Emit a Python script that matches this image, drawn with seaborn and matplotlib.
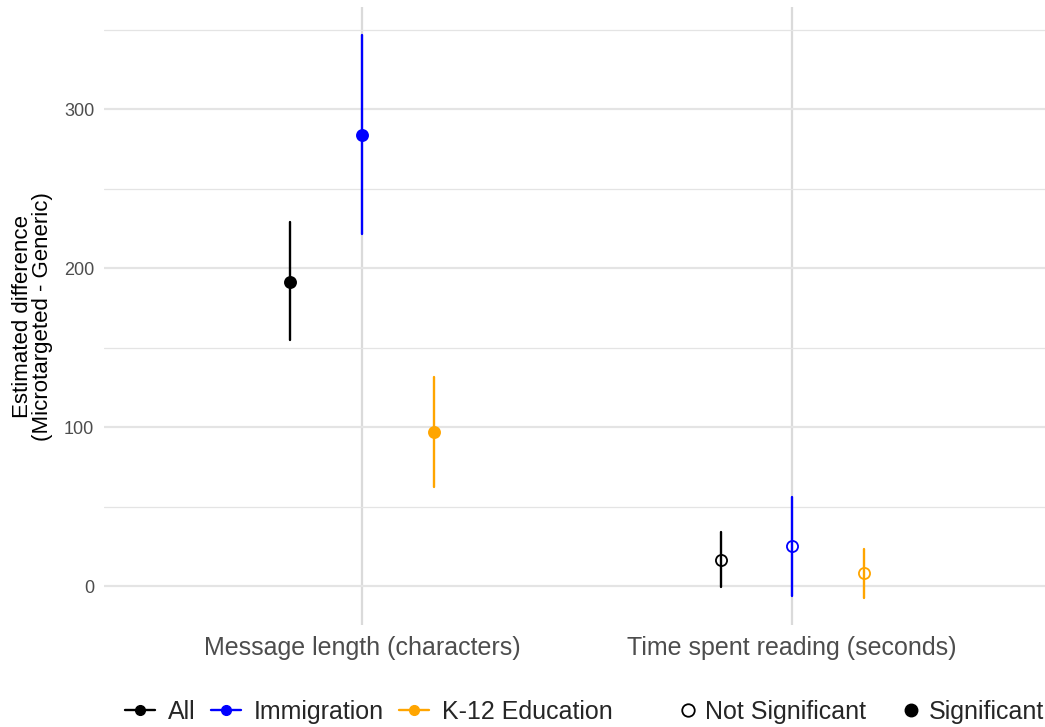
import numpy as np
import pandas as pd
import matplotlib
matplotlib.use("Agg")
import matplotlib.pyplot as plt
from matplotlib.lines import Line2D
import seaborn as sns

# Estimated microtargeting effects with 95% intervals
outcomes = ["Message length (characters)", "Time spent reading (seconds)"]
groups = ["All", "Immigration", "K-12 Education"]
palette = {"All": "#000000", "Immigration": "#0000FF", "K-12 Education": "#FFA500"}

# rows: outcome, columns: group order above
estimate = [[191.5, 283.6, 96.9], [16.4, 25.2, 8.2]]
lower = [[154.7, 221.4, 62.3], [-0.6, -6.3, -7.5]]
upper = [[229.0, 346.5, 131.4], [34.0, 56.0, 23.3]]

yticks = [0, 100, 200, 300]

# long table: each point is described by its lower bound, estimate and upper bound,
# so the median is the estimate and the full interval (pi 100) is the CI
rows = []
for i, outc in enumerate(outcomes):
    for j, grp in enumerate(groups):
        sig = "Significant" if (lower[i][j] > 0 or upper[i][j] < 0) else "Not Significant"
        for v in (lower[i][j], estimate[i][j], upper[i][j]):
            rows.append({"outcome": outc, "group": grp, "value": v, "sig": sig})
df = pd.DataFrame(rows)

sns.set_theme(style="whitegrid")
plt.rcParams["font.family"] = ["Liberation Sans", "DejaVu Sans"]

fig = plt.figure(figsize=(10.45, 7.27), dpi=100)
ax = fig.add_axes([0.0995, 0.140, 0.9005, 0.850])

common = dict(x="outcome", y="value", hue="group", order=outcomes, hue_order=groups,
              palette=palette, estimator="median", errorbar=("pi", 100),
              dodge=0.333, linestyle="none", markers="o", markersize=8,
              markeredgewidth=1.3, err_kws={"linewidth": 1.7}, legend=False, ax=ax)

sig_df = df[df["sig"] == "Significant"]
ns_df = df[df["sig"] == "Not Significant"]
if len(sig_df):
    sns.pointplot(data=sig_df, **common)
if len(ns_df):
    sns.pointplot(data=ns_df, markerfacecolor="none", **common)

ax.set_xlim(-0.6, 1.588)
ax.set_ylim(-24.5, 364)
ax.set_yticks(yticks)
ax.set_yticks([-50 + 100 * k for k in range(1, 5)], minor=True)
ax.set_xlabel("")
ax.set_ylabel("Estimated difference\n(Microtargeted - Generic)", fontsize=16,
              color="black", labelpad=8, linespacing=0.95)

ax.grid(True, which="major", axis="y", color="#e4e4e4", linewidth=1.6)
ax.grid(True, which="minor", axis="y", color="#e4e4e4", linewidth=0.9)
ax.grid(True, which="major", axis="x", color="#dadada", linewidth=1.6)
ax.set_axisbelow(True)
for s in ax.spines.values():
    s.set_visible(False)
ax.tick_params(axis="y", which="major", labelsize=13, labelcolor="#4D4D4D", length=0, pad=7)
ax.tick_params(axis="y", which="minor", length=0)
ax.tick_params(axis="x", labelsize=18, labelcolor="#4D4D4D", length=0, pad=8)

# bottom legends: series colour and significance
grp_handles = [Line2D([0], [0], color=palette[g], marker="o", markersize=7,
                      linewidth=1.7, label=g) for g in groups]
sig_handles = [
    Line2D([0], [0], color="black", marker="o", markersize=9, markerfacecolor="none",
           linestyle="none", markeredgewidth=1.3, label="Not Significant"),
    Line2D([0], [0], color="black", marker="o", markersize=9,
           linestyle="none", label="Significant"),
]
leg1 = fig.legend(handles=grp_handles, loc="center right", bbox_to_anchor=(0.586, 0.021),
                  ncol=3, frameon=False, fontsize=18, handlelength=1.2,
                  handletextpad=0.5, columnspacing=0.62, borderaxespad=0, borderpad=0)
leg2 = fig.legend(handles=sig_handles, loc="center left", bbox_to_anchor=(0.651, 0.021),
                  ncol=2, frameon=False, fontsize=18, handlelength=0.6,
                  handletextpad=0.4, columnspacing=1.5, borderaxespad=0, borderpad=0)

fig.savefig("out.png", dpi=100, facecolor="white")
